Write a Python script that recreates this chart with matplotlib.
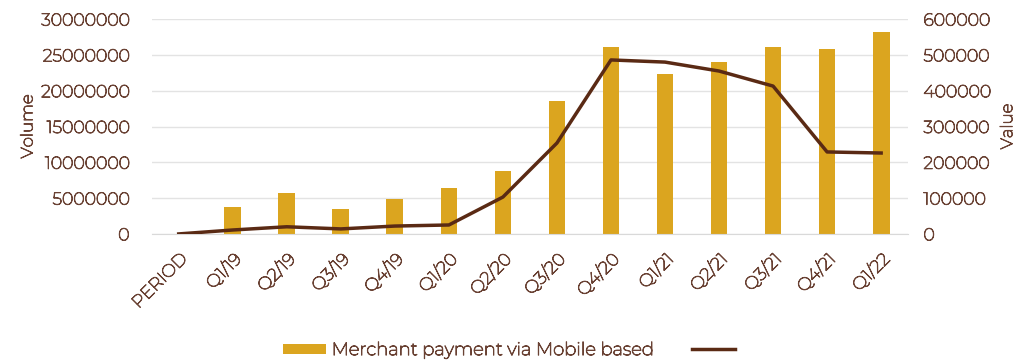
import numpy as np
import matplotlib
matplotlib.use('Agg')
import matplotlib.pyplot as plt
import matplotlib.patheffects as pe
import matplotlib.transforms as mtrans

# --- DATA
periods = ["PERIOD", "Q1/19", "Q2/19", "Q3/19", "Q4/19", "Q1/20", "Q2/20",
           "Q3/20", "Q4/20", "Q1/21", "Q2/21", "Q3/21", "Q4/21", "Q1/22"]
volume = [0, 3770000, 5700000, 3500000, 4900000, 6400000, 8800000,
          18500000, 26100000, 22300000, 24000000, 26100000, 25800000, 28200000]
value = [0, 11000, 20000, 14000, 22000, 25000, 103000,
         254000, 486000, 480000, 455000, 413000, 229000, 226000]

bar_col = "#DBA51F"
line_col = "#5A2A14"
txt_col = "#6A4234"

plt.rcParams['font.family'] = ['Montserrat', 'Lato', 'DejaVu Sans']

fig = plt.figure(figsize=(10.32, 3.61), dpi=100)
ax = fig.add_axes([0.147, 0.352, 0.733, 0.595])
ax2 = ax.twinx()

x = np.arange(len(periods))
b = ax.bar(x, volume, width=0.31, color=bar_col, zorder=2,
           label="Merchant payment via Mobile based")
l, = ax2.plot(x, value, color=line_col, lw=2.5, zorder=3, label=" ")

ax.set_ylim(0, 30000000)
ax2.set_ylim(0, 600000)
ax.set_xlim(-0.5, len(periods) - 0.5)
ax.set_yticks(np.arange(0, 30000001, 5000000))
ax2.set_yticks(np.arange(0, 600001, 100000))
ax.yaxis.set_major_formatter(matplotlib.ticker.FuncFormatter(lambda v, p: "%d" % v))
ax2.yaxis.set_major_formatter(matplotlib.ticker.FuncFormatter(lambda v, p: "%d" % v))

ax.set_xticks(x)
ax.set_xticklabels(periods, rotation=45, ha="right", rotation_mode="anchor")
shift = mtrans.ScaledTranslation(-4 / 72, 0, fig.dpi_scale_trans)
for t in ax.get_xticklabels():
    t.set_transform(t.get_transform() + shift)

ax.grid(axis="y", color="#E3E3E3", lw=1, zorder=0)
ax.set_axisbelow(True)
for a in (ax, ax2):
    for s in a.spines.values():
        s.set_visible(False)
    a.tick_params(length=0, colors=txt_col, labelsize=12.5)
ax.spines["bottom"].set_visible(True)
ax.spines["bottom"].set_color("#D9D9D9")
ax.tick_params(axis="y", pad=16)
ax2.tick_params(axis="y", pad=11)
ax.tick_params(axis="x", pad=12)

ax.set_ylabel("Volume", color=txt_col, fontsize=12, labelpad=4)
ax2.set_ylabel("Value", color=txt_col, fontsize=12, labelpad=6)

leg = fig.legend([b, l], ["Merchant payment via Mobile based", " "],
                 loc="center", bbox_to_anchor=(0.498, 0.03), ncol=2, frameon=False,
                 fontsize=13, labelcolor=txt_col, handlelength=2.4, handleheight=0.5,
                 handletextpad=0.3, columnspacing=2.1)

# thicken the thin font a little
thick = [pe.withStroke(linewidth=0.7, foreground=txt_col)]
texts = (ax.get_xticklabels() + ax.get_yticklabels() + ax2.get_yticklabels()
         + [ax.yaxis.label, ax2.yaxis.label] + leg.get_texts())
for t in texts:
    t.set_path_effects(thick)

plt.savefig("out.png", dpi=100)
